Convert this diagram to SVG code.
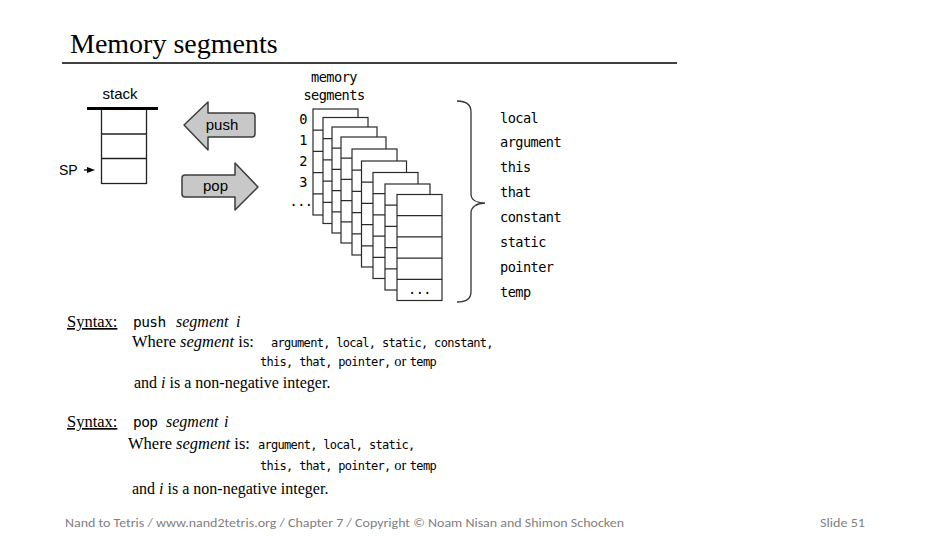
<svg xmlns="http://www.w3.org/2000/svg" width="952" height="537" viewBox="0 0 952 537">
  <style>
    .serif { font-family: "Liberation Serif", "Times New Roman", serif; fill: #000; }
    .mono { font-family: "DejaVu Sans Mono", "Liberation Mono", monospace; fill: #000; }
    .big { font-size: 13.6px; letter-spacing: -0.55px; }
    .small { font-size: 12px; letter-spacing: -0.7px; }
    .sans { font-family: "Liberation Sans", Arial, sans-serif; fill: #000; }
    .foot { font-family: "Carlito", "Liberation Sans", sans-serif; fill: #7f7f7f; font-size: 12px; }
    .card rect { fill: #fff; stroke: #2a2a2a; stroke-width: 1.2; }
    .card line { stroke: #2a2a2a; stroke-width: 1.2; }
    .arrow { fill: #c8c8c8; stroke: #3c3c3c; stroke-width: 1.5; stroke-linejoin: round; }
    .ital { font-style: italic; }
  </style>
  <defs>
    <!-- one memory segment: a column of five cells -->
    <g id="card" class="card">
      <rect x="0" y="0" width="45" height="106"/>
      <line x1="0" y1="21.2" x2="45" y2="21.2"/>
      <line x1="0" y1="42.4" x2="45" y2="42.4"/>
      <line x1="0" y1="63.6" x2="45" y2="63.6"/>
      <line x1="0" y1="84.8" x2="45" y2="84.8"/>
    </g>
  </defs>

  <rect width="952" height="537" fill="#fff"/>

  <!-- heading -->
  <g id="title">
    <text class="serif" x="70" y="53" font-size="28">Memory segments</text>
    <line x1="62" y1="63" x2="677" y2="63" stroke="#000" stroke-width="1.5"/>
  </g>

  <!-- stack -->
  <g id="stack">
    <text class="sans" x="120" y="99" font-size="15" text-anchor="middle">stack</text>
    <rect x="101.5" y="108.5" width="45" height="75" fill="#fff" stroke="#222" stroke-width="1.3"/>
    <line x1="101.5" y1="134" x2="146.5" y2="134" stroke="#222" stroke-width="1.3"/>
    <line x1="101.5" y1="158.5" x2="146.5" y2="158.5" stroke="#222" stroke-width="1.3"/>
    <line x1="87" y1="108.5" x2="158" y2="108.5" stroke="#000" stroke-width="3"/>
  </g>
  <g id="sp">
    <text class="sans" x="59" y="175" font-size="14">SP</text>
    <line x1="84" y1="170" x2="89" y2="170" stroke="#000" stroke-width="1.2"/>
    <polygon points="87,167 95,170 87,173" fill="#000"/>
  </g>

  <!-- push / pop arrows -->
  <g id="push">
    <path class="arrow" d="M184,125 L208,102 L208,113 L252,113 Q255,113 255,116 L255,134 Q255,137 252,137 L208,137 L208,150 Z"/>
    <text class="sans" x="222" y="130" font-size="15" text-anchor="middle">push</text>
  </g>
  <g id="pop">
    <path class="arrow" d="M258,187 L235,163 L235,175 L185,175 Q182,175 182,178 L182,194 Q182,197 185,197 L235,197 L235,210 Z"/>
    <text class="sans" x="215.5" y="191" font-size="15" text-anchor="middle">pop</text>
  </g>

  <!-- memory segments -->
  <g id="memory-segments">
    <text class="mono big" x="334" y="82" text-anchor="middle">memory</text>
    <text class="mono big" x="334" y="100" text-anchor="middle">segments</text>
    <g class="mono big" text-anchor="middle">
      <text x="303" y="123.5">0</text>
      <text x="303" y="145">1</text>
      <text x="303" y="166">2</text>
      <text x="303" y="187">3</text>
      <text x="301" y="206">...</text>
    </g>
    <use href="#card" x="313" y="109"/>
    <use href="#card" x="323" y="117.5"/>
    <use href="#card" x="332" y="127"/>
    <use href="#card" x="341" y="137"/>
    <use href="#card" x="352" y="149"/>
    <use href="#card" x="361.5" y="161"/>
    <use href="#card" x="373" y="172.5"/>
    <use href="#card" x="385" y="184"/>
    <use href="#card" x="397" y="194.5"/>
    <text class="mono big" x="419.5" y="294" text-anchor="middle">...</text>
  </g>

  <!-- brace and segment names -->
  <g id="segment-list">
    <path d="M457,101 C466,101 471,104 471,112 L471,194 C471,200 477,203 485,203 C477,203 471,207 471,213 L471,292 C471,299 466,302 457,302" fill="none" stroke="#333" stroke-width="1.3"/>
    <g class="mono big">
      <text x="500" y="122.5">local</text>
      <text x="500" y="147.4">argument</text>
      <text x="500" y="172.3">this</text>
      <text x="500" y="197.2">that</text>
      <text x="500" y="222.1">constant</text>
      <text x="500" y="247">static</text>
      <text x="500" y="271.9">pointer</text>
      <text x="500" y="296.8">temp</text>
    </g>
  </g>

  <!-- push syntax -->
  <g id="push-syntax" font-size="16">
    <text class="serif" x="67" y="327" font-size="16.5" text-decoration="underline">Syntax:</text>
    <text class="mono" x="133" y="327" font-size="14.5" letter-spacing="-0.6">push</text>
    <text class="serif ital" x="176" y="327">segment</text>
    <text class="serif ital" x="236" y="327">i</text>
    <text class="serif" x="132" y="347" font-size="16.5">Where <tspan class="ital">segment</tspan> is:</text>
    <text class="mono small" x="271" y="347">argument, local, static, constant,</text>
    <text x="260" y="366"><tspan class="mono small">this, that, pointer,</tspan><tspan class="serif" font-size="14.5"> or </tspan><tspan class="mono small">temp</tspan></text>
    <text class="serif" x="134" y="388">and <tspan class="ital">i</tspan> is a non-negative integer.</text>
  </g>

  <!-- pop syntax -->
  <g id="pop-syntax" font-size="16">
    <text class="serif" x="67" y="427" font-size="16.5" text-decoration="underline">Syntax:</text>
    <text class="mono" x="133" y="427" font-size="14.5" letter-spacing="-0.6">pop</text>
    <text class="serif ital" x="166" y="427">segment</text>
    <text class="serif ital" x="224" y="427">i</text>
    <text class="serif" x="128" y="449" font-size="16.5">Where <tspan class="ital">segment</tspan> is:</text>
    <text class="mono small" x="258" y="449">argument, local, static,</text>
    <text x="260" y="470"><tspan class="mono small">this, that, pointer,</tspan><tspan class="serif" font-size="14.5"> or </tspan><tspan class="mono small">temp</tspan></text>
    <text class="serif" x="132" y="494">and <tspan class="ital">i</tspan> is a non-negative integer.</text>
  </g>

  <!-- footer -->
  <g id="footer">
    <text class="foot" x="65" y="527" textLength="559" lengthAdjust="spacingAndGlyphs">Nand to Tetris / www.nand2tetris.org / Chapter 7 / Copyright © Noam Nisan and Shimon Schocken</text>
    <text class="foot" x="820" y="527" textLength="45" lengthAdjust="spacingAndGlyphs">Slide 51</text>
  </g>
</svg>
